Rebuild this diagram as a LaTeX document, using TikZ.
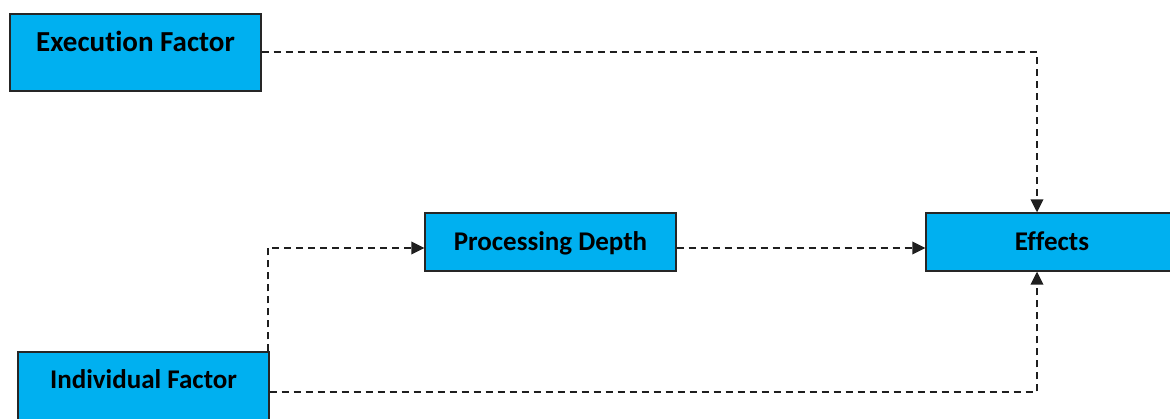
\documentclass[tikz,border=0pt]{standalone}
\usepackage{fontspec}
\setmainfont{Carlito}[Ligatures=NoCommon]
\usetikzlibrary{arrows.meta}
\definecolor{boxblue}{HTML}{00B0F0}
\definecolor{boxedge}{HTML}{262626}
\definecolor{linkgray}{HTML}{1F1F1F}
\tikzset{
  factor/.style={draw=boxedge, line width=1.3pt, fill=boxblue, inner sep=0pt,
    font=\fontsize{27}{30}\selectfont\bfseries, text=black},
  link/.style={draw=linkgray, line width=2pt, dash pattern=on 7pt off 5pt,
    -{Triangle[length=13pt,width=12.5pt]}},
}
\begin{document}
\begin{tikzpicture}[x=1pt,y=-1pt]
\useasboundingbox (0,0) rectangle (1170,419);
% boxes
\node[factor, minimum width=251pt, minimum height=77pt,
  font=\fontsize{29}{32}\selectfont\bfseries] (exec) at (135.5,52.5)
  {\raisebox{1pt}[0pt][0pt]{Execution Factor}};
\node[factor, minimum width=251pt, minimum height=58pt] (pd) at (550.5,242)
  {\raisebox{-9pt}[0pt][0pt]{Processing Depth}};
\node[factor, minimum width=252pt, minimum height=58pt] (eff) at (1052,242)
  {\raisebox{-9pt}[0pt][0pt]{Effects}};
\node[factor, minimum width=251pt, minimum height=80pt] (ind) at (143.5,392)
  {\raisebox{3.5pt}[0pt][0pt]{Individual Factor}};
% connectors
\draw[link] (exec.east) -| ([xshift=-15pt]eff.north);
\draw[link] ([xshift=-2pt]ind.north east) |- ([yshift=-6pt]pd.west);
\draw[link] ([yshift=-6pt]pd.east) -- ([yshift=-6pt]eff.west);
\draw[link] (ind.east) -| ([xshift=-15pt]eff.south);
\end{tikzpicture}
\end{document}
